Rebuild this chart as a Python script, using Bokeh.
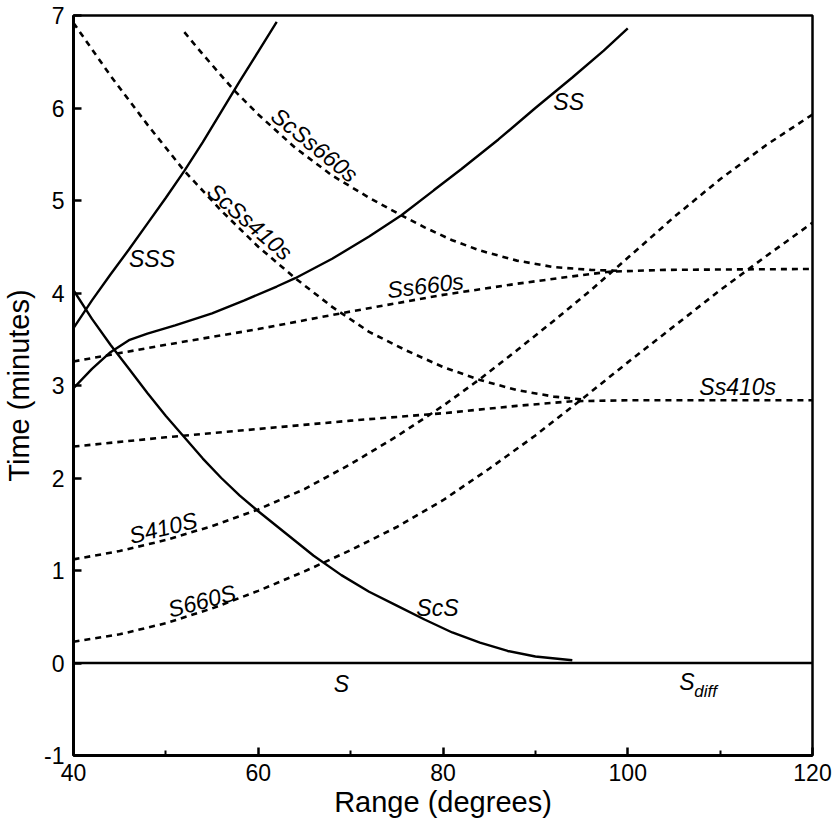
from bokeh.plotting import figure
from bokeh.models import FixedTicker, Range1d
from bokeh.embed import file_html
from bokeh.resources import INLINE
from bokeh.core.properties import value

# ---- data (range in degrees, time in minutes) ----
S_x = [40, 120]
S_t = [0.0, 0.0]

SSS_x = [40, 42, 44, 46, 48, 50, 52, 54, 56, 58, 60, 62]
SSS_t = [3.62, 3.92, 4.20, 4.47, 4.75, 5.03, 5.32, 5.63, 5.96, 6.29, 6.61, 6.93]

SS_x = [40, 42, 44, 46, 48, 51, 55, 58.5, 62, 64, 68, 72, 75.5, 79, 82, 86, 90, 94, 97.4, 100]
SS_t = [2.97, 3.18, 3.36, 3.49, 3.56, 3.65, 3.78, 3.92, 4.07, 4.16, 4.37, 4.61, 4.84, 5.11, 5.34, 5.66, 6.00, 6.33, 6.62, 6.86]

ScS_x = [40, 42, 44, 46, 48, 50, 52, 54, 56, 58, 60, 63, 66, 69, 72, 75, 78, 81, 84, 87, 90, 94]
ScS_t = [4.03, 3.72, 3.44, 3.18, 2.92, 2.67, 2.44, 2.21, 2.00, 1.81, 1.64, 1.40, 1.16, 0.95, 0.77, 0.62, 0.47, 0.33, 0.22, 0.13, 0.07, 0.03]

# ScS-reverberations merge into the Ss branches at their right-hand end
ScSs660s_x = [52, 54, 57.4, 60, 64, 68, 72, 75.5, 78, 81, 84, 88, 92, 96, 99]
ScSs660s_t = [6.82, 6.58, 6.19, 5.93, 5.57, 5.27, 5.03, 4.84, 4.71, 4.57, 4.46, 4.35, 4.28, 4.25, 4.24]

ScSs410s_x = [40, 44, 48, 52, 56, 60, 64, 68, 72, 76, 80, 84, 88, 92, 95]
ScSs410s_t = [6.92, 6.35, 5.82, 5.32, 4.89, 4.50, 4.16, 3.85, 3.58, 3.38, 3.20, 3.06, 2.95, 2.88, 2.85]

Ss660s_x = [40, 50, 60, 70, 80, 88, 94, 98, 104, 120]
Ss660s_t = [3.26, 3.44, 3.61, 3.80, 3.98, 4.10, 4.18, 4.23, 4.25, 4.26]

Ss410s_x = [40, 50, 60, 70, 80, 88, 94, 100, 120]
Ss410s_t = [2.34, 2.44, 2.53, 2.62, 2.70, 2.78, 2.83, 2.84, 2.84]

S410S_x = [40, 45, 50, 55, 60, 65, 70, 75, 80, 84, 88, 92, 96, 100, 105, 110, 115, 120]
S410S_t = [1.12, 1.21, 1.33, 1.48, 1.66, 1.88, 2.15, 2.45, 2.78, 3.07, 3.38, 3.70, 4.03, 4.38, 4.82, 5.23, 5.60, 5.93]

S660S_x = [40, 45, 50, 55, 60, 65, 70, 75, 80, 85, 90, 95, 100, 105, 110, 115, 120]
S660S_t = [0.23, 0.31, 0.43, 0.59, 0.78, 0.99, 1.22, 1.47, 1.76, 2.10, 2.46, 2.85, 3.25, 3.64, 4.03, 4.40, 4.76]

x_ticks = [40, 60, 80, 100, 120]
x_minor = [50, 70, 90, 110]
y_ticks = [-1, 0, 1, 2, 3, 4, 5, 6, 7]
x_tick_labels = ["40", "60", "80", "100", "120"]
y_tick_labels = ["-1", "0", "1", "2", "3", "4", "5", "6", "7"]

# phase labels
lab_text = ["SSS", "SS", "ScSs660s", "ScSs410s", "Ss660s", "Ss410s", "S410S", "S660S", "ScS", "S", "S"]
lab_x = [48.5, 93.6, 66.1, 59.1, 78.1, 111.9, 49.7, 53.9, 79.4, 69.0, 106.4]
lab_y = [4.37, 6.06, 5.60, 4.77, 4.08, 2.98, 1.46, 0.67, 0.59, -0.23, -0.20]
lab_ang = [0, 0, -39, -41, 7, 0, 14, 15, 0, 0, 0]
sub_text = ["diff"]
sub_x = [107.2]
sub_y = [-0.31]

FONT = "Liberation Sans"

p = figure(width=833, height=822, output_backend="svg", toolbar_location=None,
           x_range=Range1d(40, 120), y_range=Range1d(-1, 7),
           min_border_left=72, min_border_right=21, min_border_top=15, min_border_bottom=67)
p.background_fill_color = "white"
p.border_fill_color = "white"
p.xgrid.visible = False
p.ygrid.visible = False
p.outline_line_color = "black"
p.outline_line_width = 2.5
p.outline_line_alpha = 1.0

solid = [(S_x, S_t), (SSS_x, SSS_t), (SS_x, SS_t), (ScS_x, ScS_t)]
dashed = [(ScSs660s_x, ScSs660s_t), (ScSs410s_x, ScSs410s_t), (Ss660s_x, Ss660s_t),
          (Ss410s_x, Ss410s_t), (S410S_x, S410S_t), (S660S_x, S660S_t)]
for xs, ts in solid:
    p.line(xs, ts, line_color="black", line_width=2.4)
for xs, ts in dashed:
    p.line(xs, ts, line_color="black", line_width=2.6, line_dash="6 5")

p.text(x=lab_x, y=lab_y, text=lab_text, angle=lab_ang, angle_units="deg",
       text_font=value(FONT), text_font_style="italic", text_font_size="23px",
       text_align="center", text_baseline="middle", text_color="black")
p.text(x=sub_x, y=sub_y, text=sub_text,
       text_font=value(FONT), text_font_style="italic", text_font_size="17px",
       text_align="left", text_baseline="middle", text_color="black")

xa = p.xaxis[0]
xa.ticker = FixedTicker(ticks=x_ticks, minor_ticks=x_minor)
xa.major_label_overrides = {t: l for t, l in zip(x_ticks, x_tick_labels)}
ya = p.yaxis[0]
ya.ticker = FixedTicker(ticks=y_ticks, minor_ticks=[])
ya.major_label_overrides = {t: l for t, l in zip(y_ticks, y_tick_labels)}

for ax in (xa, ya):
    ax.axis_line_color = "black"
    ax.axis_line_width = 3
    ax.major_tick_in = 8
    ax.major_tick_out = 0
    ax.minor_tick_in = 5
    ax.minor_tick_out = 0
    ax.major_tick_line_color = "black"
    ax.minor_tick_line_color = "black"
    ax.major_tick_line_width = 2.5
    ax.minor_tick_line_width = 2
    ax.major_label_text_font = FONT
    ax.major_label_text_font_size = "23px"
    ax.major_label_text_color = "black"
    ax.axis_label_text_font = FONT
    ax.axis_label_text_font_size = "29px"
    ax.axis_label_text_font_style = "normal"
    ax.axis_label_text_color = "black"

xa.axis_label = "Range (degrees)"
ya.axis_label = "Time (minutes)"
xa.major_label_standoff = 8
ya.major_label_standoff = 9
xa.axis_label_standoff = 2
ya.axis_label_standoff = 6

open("out.html", "w").write(file_html(p, INLINE))
